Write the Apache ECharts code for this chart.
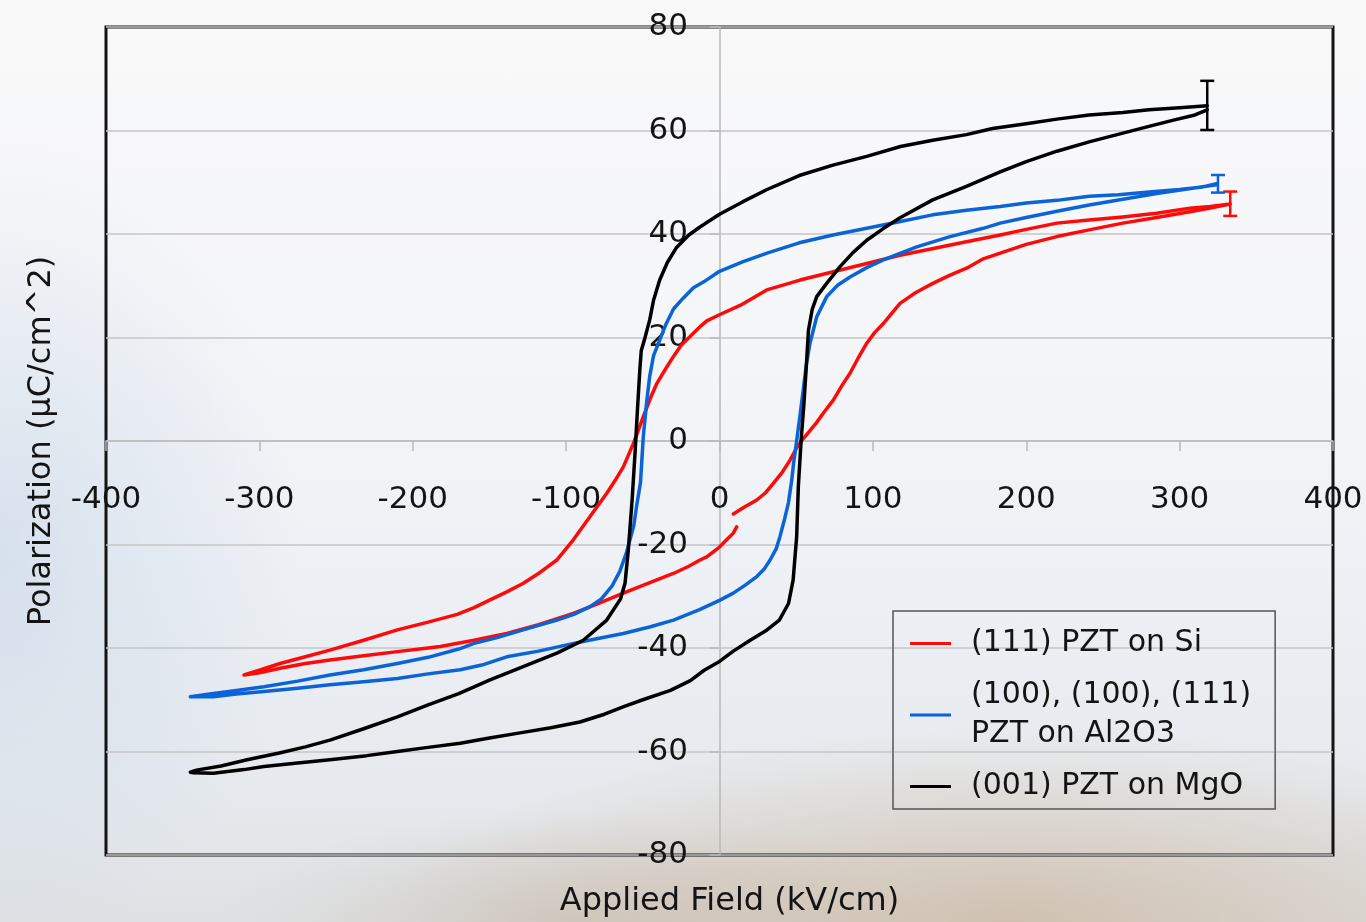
<!DOCTYPE html>
<html>
<head>
<meta charset="utf-8">
<title>P–E hysteresis loops of PZT films</title>
<script src="https://cdn.jsdelivr.net/npm/echarts@6/dist/echarts.min.js"></script>
<style>
  html, body { margin: 0; padding: 0; }
  body {
    width: 1366px; height: 922px; overflow: hidden;
    background:
      radial-gradient(ellipse 46% 21% at 74% 100%, rgba(196,166,134,0.55), rgba(196,166,134,0) 100%),
      radial-gradient(ellipse 26% 12% at 42% 100%, rgba(185,165,145,0.35), rgba(185,165,145,0) 100%),
      radial-gradient(ellipse 22% 45% at 0% 60%, rgba(196,212,230,0.55), rgba(196,212,230,0) 100%),
      linear-gradient(to bottom, #f9f9fa 0%, #f5f6f8 35%, #eef1f5 60%, #e6eaee 85%, #dfe2e4 100%);
  }
  #chart { width: 1366px; height: 922px; }
</style>
</head>
<body>
<div id="chart"></div>
<script>
// Axis ranges: [min, max, interval]
const fieldAxis = [-400, 400, 100];
const polAxis = [-80, 80, 20];

const seriesNames = [
  '(111) PZT on Si',
  '(100), (100), (111)\nPZT on Al2O3',
  '(001) PZT on MgO'
];
const seriesColors = ['#ff0a0a', '#0b63d8', '#000000'];

// (111) PZT on Si — field (kV/cm), polarization (µC/cm^2)
const siRise = [
  [9, -14.1], [16, -12.8], [24.3, -11.4], [30, -10.0], [35.1, -8.2], [41, -6.0], [46, -3.7],
  [50, -1.5], [54, 0.2], [59, 2.0], [63.4, 3.6], [68, 5.5], [74.2, 7.9], [80, 10.8], [85.1, 13.1],
  [90, 15.8], [96, 18.9], [101, 20.9], [106.8, 22.7], [117.7, 26.6], [128, 28.7], [139.4, 30.5],
  [150, 32.0], [161.1, 33.4], [172, 35.2], [183, 36.3], [200, 38.0], [220, 39.5], [241, 40.8],
  [263, 42.1], [285, 43.2], [306.7, 44.3], [320, 45.0], [333, 45.8]
];
const siFall = [
  [333, 45.8], [320, 45.3], [306.7, 45.0], [285, 44.0], [263, 43.3], [241, 42.7], [220, 42.1],
  [200, 40.9], [183, 39.8], [161, 38.5], [139.4, 37.2], [117.7, 35.9], [96, 34.3], [74.2, 32.7],
  [52.5, 31.1], [30.8, 29.2], [13.4, 26.2], [0, 24.4], [-8.3, 23.2], [-12.7, 22.1], [-19.2, 20.2],
  [-25, 18.5], [-30.1, 16.3], [-35, 14.0], [-40.9, 11.1], [-45, 8.3], [-49.7, 4.7], [-53, 2.0],
  [-56.2, -0.5], [-62.7, -5.0], [-68, -7.6], [-73.5, -10.1], [-84.4, -14.6], [-95.3, -19.1],
  [-106.1, -23.0], [-117, -25.4], [-127.9, -27.5], [-139, -29.2], [-149.6, -30.7], [-160, -32.2],
  [-171, -33.5], [-190, -35.0], [-210, -36.5], [-232, -38.5], [-254, -40.4], [-270, -41.7],
  [-286.5, -43.0], [-300, -44.3], [-310, -45.2]
];
const siReturn = [
  [-310, -45.3], [-300, -44.8], [-286.5, -43.9], [-270, -43.0], [-254, -42.3], [-232, -41.5],
  [-210, -40.7], [-190, -40.0], [-182, -39.7], [-160, -38.5], [-138.7, -37.2], [-118, -35.5],
  [-95.3, -33.3], [-80, -31.5], [-62.7, -29.4], [-45, -27.3], [-30.1, -25.6], [-20, -24.2],
  [-12.7, -23.0], [-8.3, -22.4], [0, -20.5], [5, -19.0], [9, -17.8], [11.2, -16.6]
];

// (100), (100), (111) PZT on Al2O3
const alFall = [
  [324, 49.7], [315, 49.1], [300, 48.6], [280, 48.1], [260, 47.6], [241, 47.3], [220, 46.5],
  [200, 46.0], [183, 45.3], [161, 44.6], [139, 43.7], [118, 42.4], [96, 41.1], [74, 39.8],
  [52, 38.3], [31, 36.3], [15, 34.6], [0, 32.8], [-10, 30.8], [-17, 29.6], [-24, 27.5],
  [-30, 25.5], [-35, 22.5], [-39, 19.5], [-43, 16.5], [-45.5, 12.5], [-47.5, 7.5], [-49.7, 0.8],
  [-51.5, -8.0], [-54, -12.5], [-56, -16.5], [-60.5, -21.4], [-65, -25.2], [-70, -28.0],
  [-77, -30.5], [-84.4, -32.0], [-95, -33.5], [-106, -34.6], [-128, -36.5], [-145, -38.0],
  [-160, -39.1], [-170, -40.2], [-190, -41.8], [-210, -43.0], [-232, -44.2], [-254, -45.2],
  [-275, -46.4], [-297, -47.5], [-315, -48.2], [-330, -48.8], [-345, -49.4]
];
const alRise = [
  [-345, -49.6], [-330, -49.4], [-315, -48.9], [-297, -48.4], [-275, -47.8], [-254, -47.1],
  [-232, -46.5], [-210, -45.9], [-190, -45.0], [-169, -44.2], [-155, -43.3], [-138.7, -41.7],
  [-118, -40.6], [-95, -39.1], [-80, -38.2], [-62.7, -37.2], [-45, -35.9], [-30, -34.6],
  [-13, -32.6], [0, -30.8], [9, -29.4], [17, -27.8], [24.3, -26.2], [29, -24.8], [33, -23.0],
  [37, -20.8], [39.4, -18.5], [42.5, -15.0], [44.9, -12.0], [47, -7.8], [48.3, -4.3],
  [50.3, 0.0], [52.5, 5.0], [54.6, 9.9], [56.5, 14.5], [59, 18.9], [63.4, 24.0], [69.9, 27.9],
  [77, 30.1], [85.1, 31.7], [96, 33.5], [106.8, 35.0], [128.6, 37.5], [150.3, 39.5], [172, 41.1],
  [183, 42.1], [200, 43.2], [220, 44.4], [241, 45.6], [263, 46.7], [285, 47.8], [305, 48.7],
  [324, 49.5]
];

// (001) PZT on MgO
const mgoFall = [
  [318, 64.8], [300, 64.4], [280, 64.0], [263, 63.5], [241, 63.0], [220, 62.2], [200, 61.3],
  [178, 60.4], [161, 59.2], [139, 58.1], [118, 56.9], [96, 55.0], [74, 53.3], [52, 51.3],
  [31, 48.6], [15, 46.2], [0, 43.8], [-13, 41.3], [-20, 39.8], [-28, 37.4], [-34, 34.5],
  [-39, 31.1], [-43, 27.2], [-45.5, 23.4], [-49, 19.5], [-51, 17.5], [-52, 13.5], [-53.5, 6.0],
  [-55, -2.0], [-57, -11.5], [-59.5, -21.2], [-61.6, -27.5], [-64.5, -30.5], [-73.5, -34.6],
  [-88.8, -38.5], [-106, -41.0], [-128, -43.6], [-150, -46.2], [-170, -48.8], [-190, -51.0],
  [-210, -53.3], [-232, -55.6], [-254, -57.8], [-270, -59.1], [-287, -60.3], [-308, -61.6],
  [-325, -62.8], [-341, -63.6], [-345, -64.0]
];
const mgoRise = [
  [-343, -64.1], [-330, -64.2], [-310, -63.5], [-297, -62.9], [-275, -62.2], [-254, -61.6],
  [-230, -60.8], [-210, -60.0], [-190, -59.2], [-169, -58.4], [-150, -57.4], [-130, -56.4],
  [-110, -55.4], [-91, -54.3], [-75, -52.8], [-62, -51.3], [-50, -50.0], [-32, -48.2],
  [-19, -46.3], [-10, -44.3], [0, -42.6], [9, -40.6], [20, -38.5], [31, -36.5], [39, -34.6],
  [45, -31.4], [48, -26.9], [50.3, -18.5], [51.4, -8.8], [53.3, 0.5], [55, 7.0], [56.5, 14.0],
  [58, 21.4], [60.5, 25.5], [63.4, 27.9], [70, 30.5], [78.6, 33.7], [87, 36.4], [96, 38.8],
  [107, 41.1], [118, 43.2], [139, 46.6], [161, 49.2], [183, 52.0], [200, 54.0], [220, 56.0],
  [241, 57.8], [263, 59.5], [280, 60.8], [296, 62.0], [310, 63.0], [318, 64.0]
];

// Error bars at the loop tips: [field, low, high]
const siError = [[333, 43.5, 48.2]];
const alError = [[325, 48.0, 51.4]];
const mgoError = [[318, 60.1, 69.6]];

const FONT = 'DejaVu Sans';
const TEXT = '#141414';

function loopSeries(name, color, points) {
  return {
    name: name,
    type: 'line',
    data: points,
    showSymbol: false,
    symbol: 'none',
    smooth: false,
    lineStyle: { color: color, width: 3.5, join: 'round', cap: 'round' },
    itemStyle: { color: color },
    emphasis: { disabled: true },
    z: 3
  };
}

function errorSeries(color, rows) {
  return {
    type: 'custom',
    data: rows,
    z: 4,
    renderItem: function (params, api) {
      const x = api.value(0);
      const top = api.coord([x, api.value(2)]);
      const bot = api.coord([x, api.value(1)]);
      const half = 7;
      const style = { stroke: color, lineWidth: 2.5 };
      return {
        type: 'group',
        children: [
          { type: 'line', shape: { x1: top[0], y1: top[1], x2: bot[0], y2: bot[1] }, style: style },
          { type: 'line', shape: { x1: top[0] - half, y1: top[1], x2: top[0] + half, y2: top[1] }, style: style },
          { type: 'line', shape: { x1: bot[0] - half, y1: bot[1], x2: bot[0] + half, y2: bot[1] }, style: style }
        ]
      };
    }
  };
}

const chart = echarts.init(document.getElementById('chart'), null, { renderer: 'canvas' });

// Tick labels sit beside the zero lines; their margins are measured from the grid edges.
chart.setOption({
  backgroundColor: 'transparent',
  animation: false,
  grid: {
    left: 106, top: 27, width: 1227, height: 828,
    containLabel: false,
    outerBoundsMode: 'none',
    show: true, borderColor: '#141414', borderWidth: 3, backgroundColor: 'transparent'
  },
  legend: {
    data: seriesNames,
    orient: 'vertical',
    left: 893, top: 611,
    padding: [13, 24, 3, 17],
    itemGap: 13,
    itemWidth: 41, itemHeight: 3,
    icon: 'rect',
    borderColor: '#555555', borderWidth: 1.5,
    backgroundColor: 'transparent',
    selectedMode: false,
    textStyle: {
      fontFamily: FONT, fontSize: 30, color: TEXT,
      lineHeight: 39, padding: [0, 0, 0, 15]
    }
  },
  xAxis: {
    type: 'value',
    min: fieldAxis[0], max: fieldAxis[1], interval: fieldAxis[2],
    name: 'Applied Field (kV/cm)',
    nameLocation: 'middle',
    nameGap: 31,
    nameMoveOverlap: false,
    nameTextStyle: { fontFamily: FONT, fontSize: 32, color: TEXT, padding: [0, 0, 0, 20] },
    axisLine: { onZero: true, lineStyle: { color: '#b9b9b9', width: 1.5 } },
    axisTick: { show: true, length: 10, lineStyle: { color: '#b9b9b9', width: 1.5 } },
    axisLabel: {
      margin: -371, fontFamily: FONT, fontSize: 31, color: TEXT,
      showMinLabel: true, showMaxLabel: true
    },
    splitLine: { show: false }
  },
  yAxis: {
    type: 'value',
    min: polAxis[0], max: polAxis[1], interval: polAxis[2],
    name: 'Polarization (µC/cm^2)',
    nameLocation: 'middle',
    nameGap: 48,
    nameMoveOverlap: false,
    nameTextStyle: { fontFamily: FONT, fontSize: 32, color: TEXT },
    axisLine: { onZero: true, lineStyle: { color: '#b9b9b9', width: 1.5 } },
    axisTick: { show: true, length: 10, lineStyle: { color: '#b9b9b9', width: 1.5 } },
    axisLabel: {
      margin: -582, fontFamily: FONT, fontSize: 31, color: TEXT,
      showMinLabel: true, showMaxLabel: true
    },
    splitLine: { show: true, lineStyle: { color: '#c6c6c6', width: 1.5 } }
  },
  series: [
    loopSeries(seriesNames[0], seriesColors[0], siRise.concat(siFall, siReturn)),
    loopSeries(seriesNames[1], seriesColors[1], alFall.concat(alRise)),
    loopSeries(seriesNames[2], seriesColors[2], mgoFall.concat(mgoRise)),
    errorSeries(seriesColors[0], siError),
    errorSeries(seriesColors[1], alError),
    errorSeries(seriesColors[2], mgoError)
  ]
});
</script>
</body>
</html>
